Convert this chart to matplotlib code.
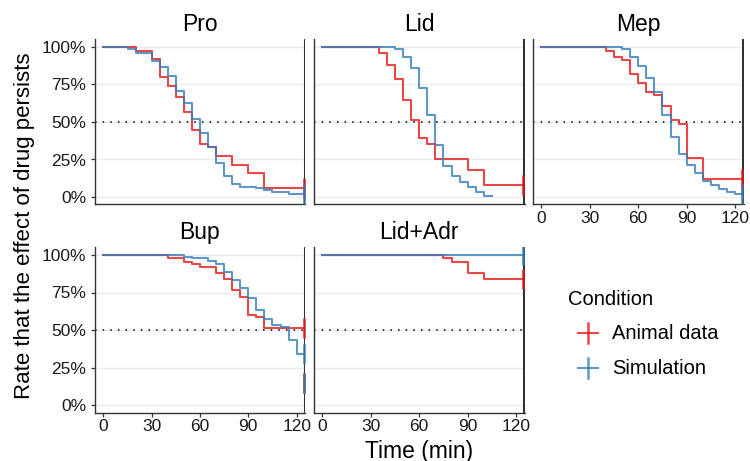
import matplotlib
matplotlib.use('Agg')
import matplotlib.pyplot as plt
from matplotlib.lines import Line2D

plt.rcParams['font.family'] = ['Liberation Sans', 'DejaVu Sans']

# ---------------- data (percent survival, step functions) ----------------
panels = ['Pro', 'Lid', 'Mep', 'Bup', 'Lid+Adr']
conditions = ['Animal data', 'Simulation']

pro_animal_t = [0, 20, 30, 35, 40, 45, 50, 55, 60, 65, 70, 80, 90, 100, 125]
pro_animal_s = [100, 97.6, 91.8, 80.2, 74, 66.4, 56.9, 44.7, 35.1, 33.6, 27.3, 21.3, 15.8, 5.8, 5.8]
pro_sim_t = [0, 15, 20, 30, 35, 40, 45, 50, 55, 60, 65, 70, 75, 80, 85, 95, 100, 105, 115, 125]
pro_sim_s = [100, 98.4, 95.8, 90.9, 86.9, 80.7, 70.7, 62.9, 51.8, 42.4, 33.6, 22.9, 14, 8.7, 6.9, 5.8, 4.7, 3.6, 2, 2]

lid_animal_t = [0, 35, 40, 45, 50, 55, 60, 65, 70, 90, 100, 125]
lid_animal_s = [100, 95.8, 88, 78.4, 64.7, 51.3, 39.1, 35.1, 25.3, 18, 8, 8]
lid_sim_t = [0, 45, 50, 55, 60, 65, 70, 75, 80, 85, 90, 95, 100, 105]
lid_sim_s = [100, 98.5, 93.6, 85.8, 72.4, 54.7, 34.7, 20.9, 14.2, 10.2, 6.9, 3.1, 0.9, 0.9]

mep_animal_t = [0, 40, 45, 50, 55, 60, 65, 70, 75, 80, 85, 90, 100, 125]
mep_animal_s = [100, 97.6, 93.6, 91.3, 82, 76.2, 70.2, 68, 60.7, 51.3, 48.7, 25.8, 11.8, 11.8]
mep_sim_t = [0, 50, 55, 60, 65, 70, 75, 80, 85, 90, 95, 100, 105, 110, 115, 120, 125]
mep_sim_s = [100, 98.7, 93.6, 87.6, 79.6, 69.8, 54.7, 39.8, 28.7, 21.3, 15.8, 10.9, 8, 5.1, 3.6, 1.8, 1.8]

bup_animal_t = [0, 40, 50, 55, 60, 70, 75, 80, 85, 90, 95, 100, 125]
bup_animal_s = [100, 97.8, 95.6, 94, 92.2, 88.2, 84, 76.7, 72.2, 60, 58.4, 51.1, 51.1]
bup_sim_t = [0, 50, 55, 65, 70, 75, 80, 85, 90, 95, 100, 105, 110, 115, 120, 125]
bup_sim_s = [100, 98.9, 97.8, 96.2, 94, 88.9, 83.3, 77.8, 71.1, 63.3, 57.3, 53.3, 51.8, 43.3, 34, 34]

lidadr_animal_t = [0, 75, 80, 90, 100, 125]
lidadr_animal_s = [100, 97.8, 95.6, 88.2, 84, 84]
lidadr_sim_t = [0, 125]
lidadr_sim_s = [100, 100]

# censor marks (percent) at end of follow-up
censor_time = 124.5
pro_censor = ([5.8], [2])
lid_censor = ([8], [])
mep_censor = ([11.8], [1.8])
bup_censor = ([51.1, 15], [34, 15])
lidadr_censor = ([84], [100])

curves = {
    'Pro': ((pro_animal_t, pro_animal_s), (pro_sim_t, pro_sim_s), pro_censor),
    'Lid': ((lid_animal_t, lid_animal_s), (lid_sim_t, lid_sim_s), lid_censor),
    'Mep': ((mep_animal_t, mep_animal_s), (mep_sim_t, mep_sim_s), mep_censor),
    'Bup': ((bup_animal_t, bup_animal_s), (bup_sim_t, bup_sim_s), bup_censor),
    'Lid+Adr': ((lidadr_animal_t, lidadr_animal_s), (lidadr_sim_t, lidadr_sim_s), lidadr_censor),
}

x_ticks = [0, 30, 60, 90, 120]
y_ticks = [0, 25, 50, 75, 100]
y_tick_labels = ['0%', '25%', '50%', '75%', '100%']

colors = ['#E41A1C', '#377EB8']
ALPHA = 0.8

# ---------------- layout ----------------
W, H = 750, 461
fig = plt.figure(figsize=(W / 100, H / 100), dpi=100)

cols = [(94.5, 305.0), (313.5, 524.5), (532.5, 743.5)]
rows = [(39.5, 204.5), (247.5, 412.5)]
positions = {'Pro': (0, 0), 'Lid': (0, 1), 'Mep': (0, 2), 'Bup': (1, 0), 'Lid+Adr': (1, 1)}
xlabels_on = {'Mep', 'Bup', 'Lid+Adr'}
ylabels_on = {'Pro', 'Bup'}

axis_col = '#333333'
text_col = '#1a1a1a'

for name in panels:
    r, c = positions[name]
    x0, x1 = cols[c]
    yt, yb = rows[r]
    ax = fig.add_axes([x0 / W, (H - yb) / H, (x1 - x0) / W, (yb - yt) / H])
    ax.set_xlim(-5.5, 125.2)
    ax.set_ylim(-5, 105)
    for yv in y_ticks:
        ax.axhline(yv, color='#EBEBEB', lw=1.0, zorder=0)
    ax.axhline(50, color='black', lw=1.1, ls=(0, (1, 4)), zorder=1)

    animal, sim, cens = curves[name]
    for (t, s), col in zip((animal, sim), colors):
        ax.step(t, s, where='post', color=col, lw=1.5, alpha=ALPHA, zorder=3)
    ax.axvline(125, color=axis_col, lw=1.5, zorder=4)
    for vals, col in zip(cens, colors):
        if vals:
            ax.plot([censor_time] * len(vals), vals, ls='none', marker='|',
                    ms=14, mew=2.0, color=col, alpha=ALPHA, zorder=5)

    for sp in ['top', 'right']:
        ax.spines[sp].set_visible(False)
    for sp in ['left', 'bottom']:
        ax.spines[sp].set_color(axis_col)
        ax.spines[sp].set_linewidth(1.0)

    ax.set_xticks(x_ticks)
    ax.set_yticks(y_ticks)
    if name in xlabels_on:
        ax.set_xticklabels([str(v) for v in x_ticks])
        ax.tick_params(axis='x', length=3, width=0.9, color=axis_col, pad=2,
                       labelsize=12.5, labelcolor=text_col)
    else:
        ax.set_xticklabels([])
        ax.tick_params(axis='x', length=0)
    if name in ylabels_on:
        ax.set_yticklabels(y_tick_labels)
        ax.tick_params(axis='y', length=3, width=0.9, color=axis_col, pad=3,
                       labelsize=12.5, labelcolor=text_col)
    else:
        ax.set_yticklabels([])
        ax.tick_params(axis='y', length=0)
    ax.set_title(name, fontsize=16.5, color='black', pad=6)

fig.text(419 / W, 1 - 451 / H, 'Time (min)', ha='center', va='center', fontsize=16.5)
fig.text(25 / W, 1 - 226 / H, 'Rate that the effect of drug persists', ha='center',
         va='center', rotation=90, fontsize=16)

# ---------------- legend ----------------
fig.text(568 / W, 1 - 299 / H, 'Condition', ha='left', va='center', fontsize=14.5)
for i, (lab, col) in enumerate(zip(conditions, colors)):
    yc = 333 + i * 35
    fig.add_artist(Line2D([578 / W, 598 / W], [1 - yc / H, 1 - yc / H],
                          color=col, lw=1.5, alpha=ALPHA, transform=fig.transFigure))
    fig.add_artist(Line2D([588 / W, 588 / W], [1 - (yc - 10) / H, 1 - (yc + 10) / H],
                          color=col, lw=1.8, alpha=ALPHA, transform=fig.transFigure))
    fig.text(612 / W, 1 - yc / H, lab, ha='left', va='center', fontsize=14.5)

fig.savefig('out.png', dpi=100)
